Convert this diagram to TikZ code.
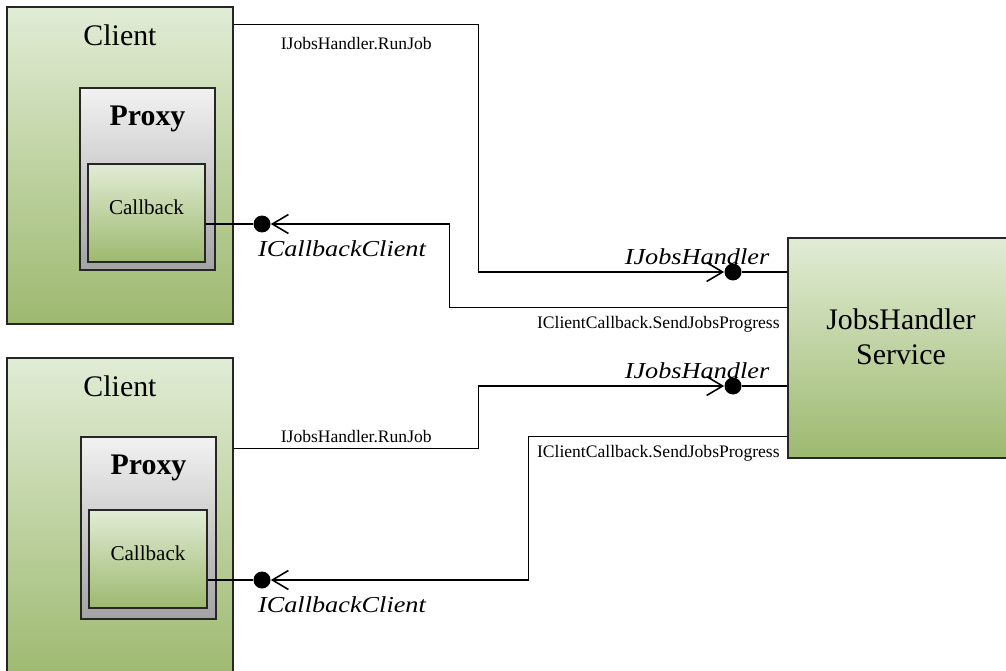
\documentclass[tikz,border=0pt]{standalone}
\usepackage{fontspec}
\setmainfont{Liberation Serif}
\newfontfamily\ifacefont{Liberation Serif}[FakeStretch=1.15]
\usetikzlibrary{calc,arrows.meta}
\definecolor{greentop}{HTML}{E1ECD5}
\definecolor{greenbot}{HTML}{9DB96F}
\definecolor{greytop}{HTML}{F2F2F2}
\definecolor{greybot}{HTML}{A3A3A3}
\tikzset{
  box/.style={draw=black!85,line width=0.9pt,rectangle,inner sep=0pt},
  greenbox/.style={box,top color=greentop,bottom color=greenbot},
  greybox/.style={box,top color=greytop,bottom color=greybot},
  titlelbl/.style={anchor=north,yshift=-0.36cm,inner sep=0pt,font=\fontsize{17}{20}\selectfont},
  proxylbl/.style={anchor=north,yshift=-0.36cm,inner sep=0pt,font=\fontsize{17}{20}\selectfont\bfseries},
  cblbl/.style={anchor=center,yshift=-0.89cm,inner sep=0pt,font=\fontsize{12}{14}\selectfont},
  wire/.style={line width=0.7pt},
  iface/.style={circle,fill,inner sep=0pt,minimum size=0.34cm},
  callarrow/.style={-{Straight Barb[length=0.32cm,width=0.38cm,line width=0.9pt]}},
  smalllbl/.style={font=\fontsize{10}{12}\selectfont,inner sep=1pt},
  itlbl/.style={font=\fontsize{13}{15}\ifacefont\itshape,inner sep=0pt}
}
\begin{document}
\begin{tikzpicture}[x=0.02cm,y=0.02cm]
\useasboundingbox (0,0) rectangle (1006,670);
\clip (0,0) rectangle (1006,670);

% first client
\node[greenbox,minimum width=4.52cm,minimum height=6.34cm,
  label={[titlelbl]north:Client}] (client1) at (120,504.5) {};
\node[greybox,minimum width=2.7cm,minimum height=3.64cm,
  label={[proxylbl]north:Proxy}] (proxy1) at (147.5,491) {};
\node[greenbox,minimum width=2.34cm,minimum height=1.96cm,
  label={[cblbl]north:Callback}] (cb1) at (146.5,457) {};

% second client
\node[greenbox,minimum width=4.52cm,minimum height=6.44cm,
  label={[titlelbl]north:Client}] (client2) at (120,151) {};
\node[greybox,minimum width=2.7cm,minimum height=3.64cm,
  label={[proxylbl]north:Proxy}] (proxy2) at (148.5,142) {};
\node[greenbox,minimum width=2.36cm,minimum height=1.96cm,
  label={[cblbl]north:Callback}] (cb2) at (148,111) {};

% service
\node[greenbox,minimum width=4.52cm,minimum height=4.4cm,
  label={[anchor=center,yshift=-2cm,align=center,
  font=\fontsize{17}{20}\selectfont]north:{JobsHandler\\Service}}] (svc) at (901,322) {};

% interfaces
\node[iface,label={[itlbl,xshift=-0.72cm,label distance=-1pt]above:IJobsHandler}] (ijh1) at (733,398) {};
\node[iface,label={[itlbl,xshift=-0.72cm,label distance=-1pt]above:IJobsHandler}] (ijh2) at (733,284) {};
\node[iface,label={[itlbl,xshift=1.6cm,label distance=4pt]below:ICallbackClient}] (icc1) at (262,446) {};
\node[iface,label={[itlbl,xshift=1.6cm,label distance=4pt]below:ICallbackClient}] (icc2) at (262,90) {};

% calls to the service
\draw[wire,callarrow] ($(client1.north east)+(0,-18)$) -- ++(245,0)
  node[smalllbl,midway,below=6pt] {IJobsHandler.RunJob} |- (ijh1);
\draw[wire] (ijh1) -- (ijh1 -| svc.west);
\draw[wire,callarrow] ($(client2.north east)+(0,-91)$) -- ++(245,0)
  node[smalllbl,midway,above=2pt] {IJobsHandler.RunJob} |- (ijh2);
\draw[wire] (ijh2) -- (ijh2 -| svc.west);

% callbacks
\draw[wire,callarrow] ($(svc.north west)+(0,-70)$)
  node[smalllbl,anchor=north east,xshift=-3pt,yshift=-4pt] {IClientCallback.SendJobsProgress}
  -- ++(-338,0) |- (icc1);
\draw[wire] (icc1) -- (icc1 -| cb1.east);
\draw[wire,callarrow] ($(svc.north west)+(0,-199)$)
  node[smalllbl,anchor=north east,xshift=-3pt,yshift=-4pt] {IClientCallback.SendJobsProgress}
  -- ++(-259,0) |- (icc2);
\draw[wire] (icc2) -- (icc2 -| cb2.east);
\end{tikzpicture}
\end{document}
